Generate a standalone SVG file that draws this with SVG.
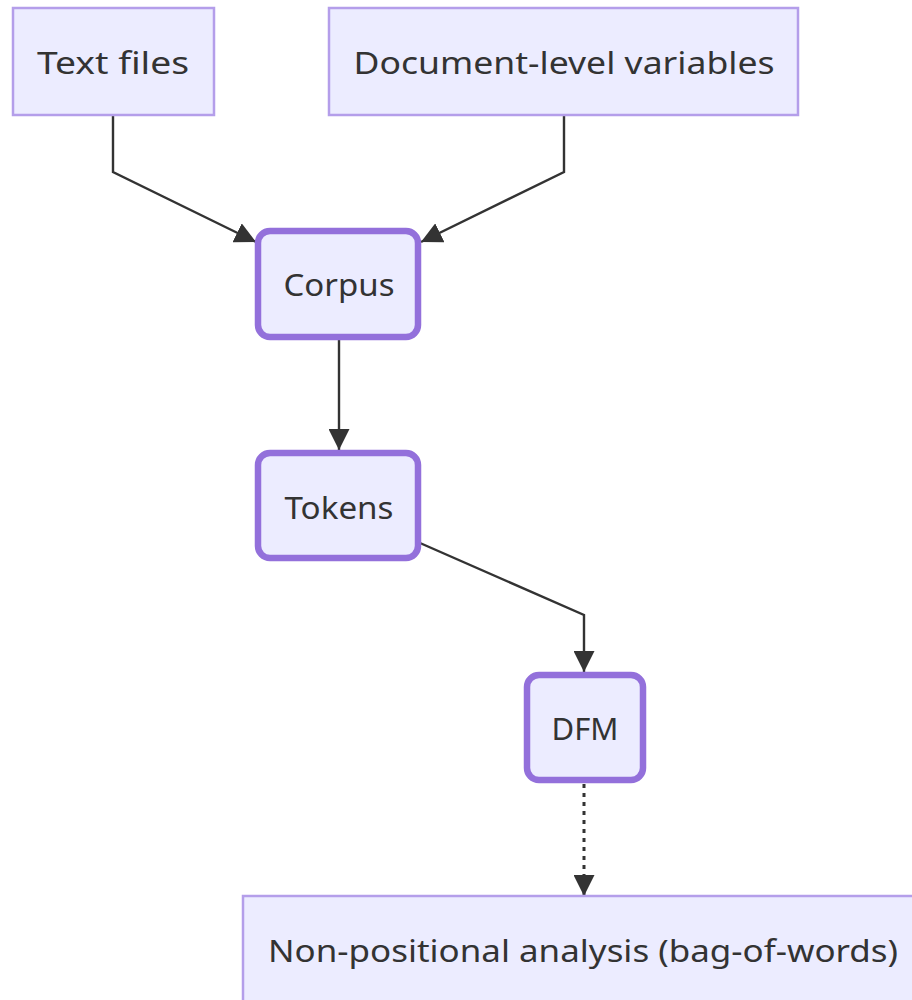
<svg xmlns="http://www.w3.org/2000/svg" width="912" height="1000" viewBox="0 0 912 1000">
  <style>
    .plain rect { fill: #ECECFF; stroke: #B49EEA; stroke-width: 2.5; }
    .bold rect { fill: #ECECFF; stroke: #9370DB; stroke-width: 6.5; }
    text { font-family: "Noto Sans", "Open Sans", sans-serif; font-size: 31px; fill: #333; text-anchor: middle; dominant-baseline: central; }
    .edge { fill: none; stroke: #333; stroke-width: 2.4; }
    .dotted { stroke-dasharray: 4 5; stroke-width: 3; }
  </style>
  <defs>
    <marker id="arrowBig" viewBox="0 0 10 10" refX="10" refY="5" markerWidth="21" markerHeight="21" markerUnits="userSpaceOnUse" orient="auto">
      <path d="M0,0 L10,5 L0,10 z" fill="#333"/>
    </marker>
  </defs>

  <g id="connectors">
    <path class="edge" d="M113,115 L113,172 L256,242" marker-end="url(#arrowBig)"/>
    <path class="edge" d="M564,115 L564,172 L421,242" marker-end="url(#arrowBig)"/>
    <path class="edge" d="M339,338 L339,450" marker-end="url(#arrowBig)"/>
    <path class="edge" d="M420,543 L584,615 L584,672" marker-end="url(#arrowBig)"/>
    <path class="edge dotted" d="M584,784 L584,896" marker-end="url(#arrowBig)"/>
  </g>

  <g id="text-files" class="plain">
    <rect x="13" y="8" width="201" height="107"/>
    <text x="113" y="62" textLength="152" lengthAdjust="spacingAndGlyphs">Text files</text>
  </g>
  <g id="doc-vars" class="plain">
    <rect x="329" y="8" width="469" height="107"/>
    <text x="564" y="62" textLength="421" lengthAdjust="spacingAndGlyphs">Document-level variables</text>
  </g>
  <g id="corpus" class="bold">
    <rect x="258" y="231" width="160" height="106" rx="12"/>
    <text x="339" y="284" textLength="111" lengthAdjust="spacingAndGlyphs">Corpus</text>
  </g>
  <g id="tokens" class="bold">
    <rect x="258" y="453" width="160" height="105" rx="12"/>
    <text x="339" y="507" textLength="109" lengthAdjust="spacingAndGlyphs">Tokens</text>
  </g>
  <g id="dfm" class="bold">
    <rect x="527" y="675" width="116" height="105" rx="12"/>
    <text x="585" y="728" textLength="67" lengthAdjust="spacingAndGlyphs">DFM</text>
  </g>
  <g id="bag-of-words" class="plain">
    <rect x="243" y="896" width="680" height="120"/>
    <text x="583" y="950" textLength="630" lengthAdjust="spacingAndGlyphs">Non-positional analysis (bag-of-words)</text>
  </g>
</svg>
